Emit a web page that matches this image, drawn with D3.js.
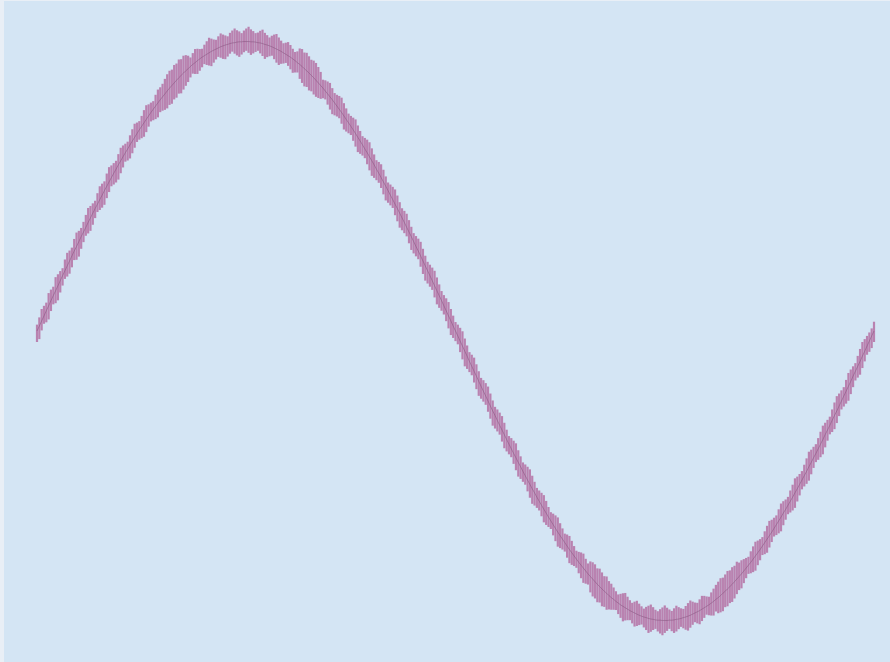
<!DOCTYPE html>
<html>
<head>
<meta charset="utf-8">
<script src="https://cdn.jsdelivr.net/npm/d3@7"></script>
<style>
  html, body { margin: 0; padding: 0; background: #e9eff6; }
  svg { display: block; }
</style>
</head>
<body>
<svg id="chart" width="890" height="662"></svg>
<script>
// Sample positions (degrees along one period)
const angles = d3.range(0, 361);

// Centre value of each range bar
const centers = [
0,.017,.035,.052,.070,.087,.105,.122,.139,.156,
.174,.191,.208,.225,.242,.259,.276,.292,.309,.326,
.342,.358,.375,.391,.407,.423,.438,.454,.469,.485,
.500,.515,.530,.545,.559,.574,.588,.602,.616,.629,
.643,.656,.669,.682,.695,.707,.719,.731,.743,.755,
.766,.777,.788,.799,.809,.819,.829,.839,.848,.857,
.866,.875,.883,.891,.899,.906,.914,.921,.927,.934,
.940,.946,.951,.956,.961,.966,.970,.974,.978,.982,
.985,.988,.990,.993,.995,.996,.998,.999,.999,1.000,
1.000,1.000,.999,.999,.998,.996,.995,.993,.990,.988,
.985,.982,.978,.974,.970,.966,.961,.956,.951,.946,
.940,.934,.927,.921,.914,.906,.899,.891,.883,.875,
.866,.857,.848,.839,.829,.819,.809,.799,.788,.777,
.766,.755,.743,.731,.719,.707,.695,.682,.669,.656,
.643,.629,.616,.602,.588,.574,.559,.545,.530,.515,
.500,.485,.469,.454,.438,.423,.407,.391,.375,.358,
.342,.326,.309,.292,.276,.259,.242,.225,.208,.191,
.174,.156,.139,.122,.105,.087,.070,.052,.035,.017,
0,-.017,-.035,-.052,-.070,-.087,-.105,-.122,-.139,-.156,
-.174,-.191,-.208,-.225,-.242,-.259,-.276,-.292,-.309,-.326,
-.342,-.358,-.375,-.391,-.407,-.423,-.438,-.454,-.469,-.485,
-.500,-.515,-.530,-.545,-.559,-.574,-.588,-.602,-.616,-.629,
-.643,-.656,-.669,-.682,-.695,-.707,-.719,-.731,-.743,-.755,
-.766,-.777,-.788,-.799,-.809,-.819,-.829,-.839,-.848,-.857,
-.866,-.875,-.883,-.891,-.899,-.906,-.914,-.921,-.927,-.934,
-.940,-.946,-.951,-.956,-.961,-.966,-.970,-.974,-.978,-.982,
-.985,-.988,-.990,-.993,-.995,-.996,-.998,-.999,-.999,-1.000,
-1.000,-1.000,-.999,-.999,-.998,-.996,-.995,-.993,-.990,-.988,
-.985,-.982,-.978,-.974,-.970,-.966,-.961,-.956,-.951,-.946,
-.940,-.934,-.927,-.921,-.914,-.906,-.899,-.891,-.883,-.875,
-.866,-.857,-.848,-.839,-.829,-.819,-.809,-.799,-.788,-.777,
-.766,-.755,-.743,-.731,-.719,-.707,-.695,-.682,-.669,-.656,
-.643,-.629,-.616,-.602,-.588,-.574,-.559,-.545,-.530,-.515,
-.500,-.485,-.469,-.454,-.438,-.423,-.407,-.391,-.375,-.358,
-.342,-.326,-.309,-.292,-.276,-.259,-.242,-.225,-.208,-.191,
-.174,-.156,-.139,-.122,-.105,-.087,-.070,-.052,-.035,-.017,
0];

// Upper extent above the centre (thousandths)
const upper = [
22,30,41,35,28,44,38,31,47,40,33,26,39,45,36,29,42,48,37,30,
35,43,50,41,34,27,38,46,40,32,44,51,42,35,29,37,45,39,31,25,
33,41,47,38,30,36,44,49,40,34,28,39,46,43,45,52,58,60,55,62,
58,63,56,60,54,45,31,39,47,41,34,29,38,45,52,44,37,32,40,46,
39,33,28,37,43,49,41,36,30,38,45,51,43,37,31,35,42,48,40,34,
29,38,46,52,44,37,33,40,47,42,35,30,39,55,60,56,62,58,54,59,
60,55,47,29,37,43,48,40,34,39,46,51,44,38,32,36,42,49,41,35,
30,38,45,50,43,36,31,39,46,42,34,28,37,44,51,45,38,33,40,47,
41,34,29,36,43,49,42,35,31,38,45,52,46,39,33,37,43,48,41,36,
31,39,46,51,44,37,32,40,47,41,35,29,38,45,50,43,36,30,38,44,
48,41,34,28,37,44,50,42,36,31,39,46,52,45,38,32,37,43,49,42,
35,30,38,45,51,43,37,31,40,47,41,34,29,36,44,50,42,36,52,58,
60,55,62,57,52,58,50,48,41,35,30,38,45,51,43,36,31,39,46,40,
34,29,37,44,50,42,35,31,38,45,52,44,37,32,40,47,41,35,30,38,
45,51,43,36,31,39,46,41,34,28,37,44,50,55,60,54,58,62,56,59,
55,60,48,47,41,35,29,38,44,49,42,36,31,39,46,51,43,37,32,40,
47,41,34,29,37,43,50,42,36,31,38,45,52,44,38,32,37,43,48,41,
35,30,38,45,51,43,37,31,39,46,41,34,28,36,43,49,42,35,30,26,
32];

// Lower extent below the centre (thousandths)
const lower = [
38,45,33,27,40,47,36,30,43,50,41,34,28,37,44,39,31,46,52,42,
35,29,38,45,40,33,27,36,43,49,41,35,30,39,46,51,43,37,31,40,
47,42,36,29,34,41,48,44,37,31,38,45,50,43,48,55,60,58,63,57,
60,55,62,57,52,46,38,32,39,46,41,35,29,37,44,51,43,36,31,38,
45,49,42,35,30,38,46,52,44,37,32,39,45,40,34,28,36,43,50,42,
36,31,39,47,51,43,37,30,35,42,48,41,34,50,57,61,56,60,55,58,
57,52,46,35,29,37,44,50,43,36,31,39,47,42,36,30,38,45,51,44,
37,32,40,47,52,45,38,33,36,43,49,42,35,29,38,44,50,43,37,31,
39,46,41,34,28,37,45,51,44,38,32,40,47,42,35,30,36,43,49,41,
35,29,38,46,52,44,37,31,39,45,50,43,36,30,37,44,51,45,38,32,
40,47,41,35,29,36,43,49,42,36,31,39,46,52,44,37,32,38,45,41,
34,28,37,44,50,43,36,31,40,47,42,35,30,38,45,51,44,37,55,60,
58,62,55,60,54,57,48,42,36,30,38,45,52,44,38,33,40,47,41,34,
29,36,43,50,44,37,31,39,46,51,43,36,30,38,45,42,35,29,37,44,
50,43,37,32,40,47,41,35,29,36,43,49,42,54,58,62,55,60,57,61,
58,52,47,50,42,35,30,38,45,51,43,37,31,40,47,41,34,28,36,43,
49,42,36,31,39,46,52,44,38,32,37,43,48,41,35,30,38,45,51,44,
37,31,40,47,42,35,29,36,43,50,44,38,32,39,46,41,35,30,37,42,
38];

const W = 890, H = 662;
const svg = d3.select("#chart");

svg.append("rect")
  .attr("x", 4).attr("y", 1)
  .attr("width", W - 4).attr("height", H - 1)
  .attr("fill", "#d4e5f4");

const x = d3.scaleLinear().domain([0, 360]).range([37, 874]);
const y = d3.scaleLinear().domain([-1.14, 1.14]).range([661, 1]);

const data = angles.map((a, i) => ({
  a,
  c: centers[i],
  hi: centers[i] + (upper[i] ?? 40) / 1000,
  lo: centers[i] - (lower[i] ?? 40) / 1000
}));

svg.append("g")
  .selectAll("rect")
  .data(data)
  .join("rect")
  .attr("x", d => x(d.a) - 1.1)
  .attr("width", 2.2)
  .attr("y", d => y(d.hi))
  .attr("height", d => y(d.lo) - y(d.hi))
  .attr("fill", "#b67aa9")
  .attr("fill-opacity", 0.92);

svg.append("path")
  .datum(data)
  .attr("fill", "none")
  .attr("stroke", "#875580")
  .attr("stroke-opacity", 0.55)
  .attr("stroke-width", 1)
  .attr("d", d3.line().x(d => x(d.a)).y(d => y(d.c)));
</script>
</body>
</html>
